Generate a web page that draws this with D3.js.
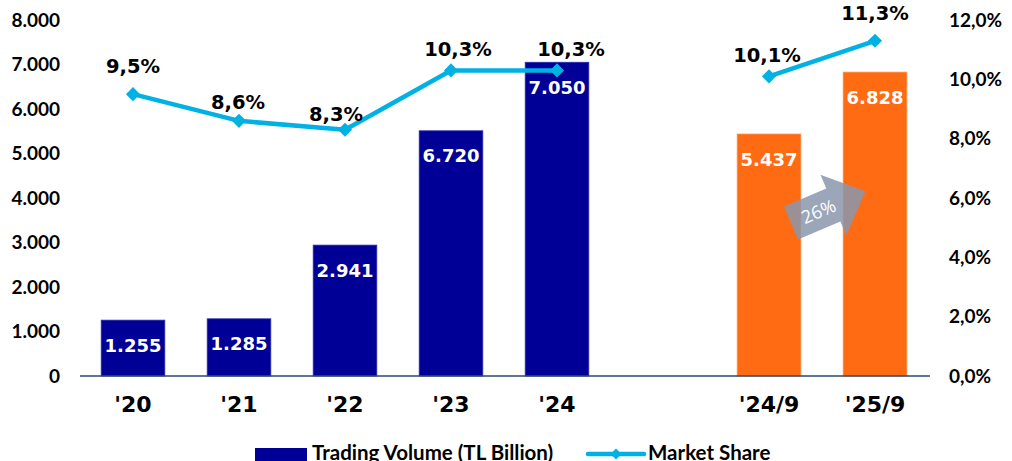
<!DOCTYPE html>
<html>
<head>
<meta charset="utf-8">
<script src="https://cdn.jsdelivr.net/npm/d3@7"></script>
<style>
  html, body { margin: 0; padding: 0; background: #fff; }
  svg { display: block; }
</style>
</head>
<body>
<svg id="chart" width="1012" height="461"></svg>
<script>
// ---- data ----
const categories = ["'20", "'21", "'22", "'23", "'24", "", "'24/9", "'25/9"];
const barValues = [1255, 1285, 2941, 5510, 7050, null, 5437, 6828];
const barLabels = ["1.255", "1.285", "2.941", "6.720", "7.050", "", "5.437", "6.828"];
const marketShare = [9.5, 8.6, 8.3, 10.3, 10.3, null, 10.1, 11.3];
const shareLabels = ["9,5%", "8,6%", "8,3%", "10,3%", "10,3%", "", "10,1%", "11,3%"];
const leftTicks = [0, 1000, 2000, 3000, 4000, 5000, 6000, 7000, 8000];
const leftTickLabels = ["0", "1.000", "2.000", "3.000", "4.000", "5.000", "6.000", "7.000", "8.000"];
const rightTicks = [0, 2, 4, 6, 8, 10, 12];
const rightTickLabels = ["0,0%", "2,0%", "4,0%", "6,0%", "8,0%", "10,0%", "12,0%"];
const growthLabel = "26%";
const legendLabels = ["Trading Volume (TL Billion)", "Market Share"];

// ---- styles / layout ----
const NAVY = "#000096";
const ORANGE = "#FF6B13";
const CYAN = "#00B2E3";
const isProjection = i => i >= 6;
// label placement nudges (px) for the share labels, as placed in the original
const shareLabelNudge = [[0, -28], [-1, -19], [-9, -16], [7, -21], [14, -21], [0, 0], [-2, -21], [0, -28]];

const svg = d3.select("#chart");
const x = d3.scaleBand().domain(d3.range(categories.length)).range([80, 928])
  .paddingInner(0.4).paddingOuter(0.2);
const yL = d3.scaleLinear().domain([0, 8000]).range([376, 20]);
const yR = d3.scaleLinear().domain([0, 12]).range([376, 20]);

const axisFont = "Lato, 'Liberation Sans', sans-serif";
const dataFont = "'DejaVu Sans', Verdana, sans-serif";

// left axis
const gL = svg.append("g").attr("transform", "translate(60,0)")
  .call(d3.axisLeft(yL).tickValues(leftTicks).tickSize(0).tickPadding(0)
    .tickFormat((d, i) => leftTickLabels[i]));
gL.select(".domain").remove();
gL.selectAll("text").attr("font-family", axisFont).attr("font-weight", 700)
  .attr("font-size", 19).attr("fill", "#000");

// right axis
const gR = svg.append("g").attr("transform", "translate(949,0)")
  .call(d3.axisRight(yR).tickValues(rightTicks).tickSize(0).tickPadding(0)
    .tickFormat((d, i) => rightTickLabels[i]));
gR.select(".domain").remove();
gR.selectAll("text").attr("font-family", axisFont).attr("font-weight", 700)
  .attr("font-size", 19).attr("fill", "#000");

// bars
const barIdx = d3.range(categories.length).filter(i => barValues[i] != null);
svg.append("g").selectAll("rect").data(barIdx).join("rect")
  .attr("x", i => x(i)).attr("width", x.bandwidth())
  .attr("y", i => yL(barValues[i])).attr("height", i => yL(0) - yL(barValues[i]))
  .attr("fill", i => isProjection(i) ? ORANGE : NAVY)
  .attr("stroke", i => isProjection(i) ? "#FF8A45" : "#2A2AB0").attr("stroke-width", 0.8);

// bar labels
svg.append("g").selectAll("text").data(barIdx).join("text")
  .attr("x", i => x(i) + x.bandwidth() / 2)
  .attr("y", i => yL(barValues[i]) + 25)
  .attr("dy", "0.36em")
  .attr("text-anchor", "middle")
  .attr("font-family", dataFont).attr("font-weight", 700).attr("font-size", 18)
  .attr("fill", "#fff")
  .text(i => barLabels[i]);

// baseline
svg.append("line").attr("x1", 80).attr("x2", 930).attr("y1", yL(0)).attr("y2", yL(0))
  .attr("stroke", "#2B4A6B").attr("stroke-width", 1.5);

// x axis labels
const gX = svg.append("g").attr("transform", `translate(0,${yL(0)})`)
  .call(d3.axisBottom(x).tickSize(0).tickPadding(0).tickFormat(i => categories[i]));
gX.select(".domain").remove();
gX.selectAll("text").attr("font-family", dataFont).attr("font-weight", 700)
  .attr("font-size", 22).attr("fill", "#000").attr("dy", "0").attr("y", 36);

// market share line
const cx = i => x(i) + x.bandwidth() / 2;
const line = d3.line().defined(i => marketShare[i] != null)
  .x(i => cx(i)).y(i => yR(marketShare[i]));
svg.append("path").datum(d3.range(categories.length)).attr("d", line)
  .attr("fill", "none").attr("stroke", CYAN).attr("stroke-width", 4.5)
  .attr("stroke-linejoin", "round");
const shareIdx = d3.range(categories.length).filter(i => marketShare[i] != null);
svg.append("g").selectAll("path").data(shareIdx).join("path")
  .attr("d", d3.symbol().type(d3.symbolSquare).size(100))
  .attr("transform", i => `translate(${cx(i)},${yR(marketShare[i])}) rotate(45)`)
  .attr("fill", CYAN);

// share labels
svg.append("g").selectAll("text").data(shareIdx).join("text")
  .attr("x", i => cx(i) + shareLabelNudge[i][0]).attr("y", i => yR(marketShare[i]) + shareLabelNudge[i][1])
  .attr("dy", "0.36em").attr("text-anchor", "middle")
  .attr("font-family", dataFont).attr("font-weight", 700).attr("font-size", 19.5)
  .attr("fill", "#000")
  .text(i => shareLabels[i]);

// growth arrow
const ax0 = cx(6) + 22, ay0 = 223;
const arrow = svg.append("g").attr("transform", `translate(${ax0},${ay0}) rotate(-23)`);
arrow.append("path")
  .attr("d", "M0,-18 L46,-18 L46,-33 L81,0 L46,33 L46,18 L0,18 Z")
  .attr("fill", "#8A97AD").attr("fill-opacity", 0.85);
arrow.append("text").attr("x", 30).attr("y", 0).attr("dy", "0.36em")
  .attr("text-anchor", "middle").attr("font-family", "'Open Sans', sans-serif")
  .attr("font-size", 18).attr("fill", "#fff").text(growthLabel);

// legend
const lg = svg.append("g");
lg.append("rect").attr("x", 255).attr("y", 448).attr("width", 52).attr("height", 20).attr("fill", NAVY);
lg.append("text").attr("x", 312).attr("y", 460).attr("font-family", axisFont)
  .attr("font-weight", 700).attr("font-size", 20.5).text(legendLabels[0]);
lg.append("line").attr("x1", 588).attr("x2", 644).attr("y1", 454).attr("y2", 454)
  .attr("stroke", CYAN).attr("stroke-width", 4.5).attr("stroke-linecap", "round");
lg.append("path").attr("d", d3.symbol().type(d3.symbolSquare).size(60))
  .attr("transform", "translate(616,454) rotate(45)").attr("fill", CYAN);
lg.append("text").attr("x", 648).attr("y", 460).attr("font-family", axisFont)
  .attr("font-weight", 700).attr("font-size", 20.5).text(legendLabels[1]);
</script>
</body>
</html>
